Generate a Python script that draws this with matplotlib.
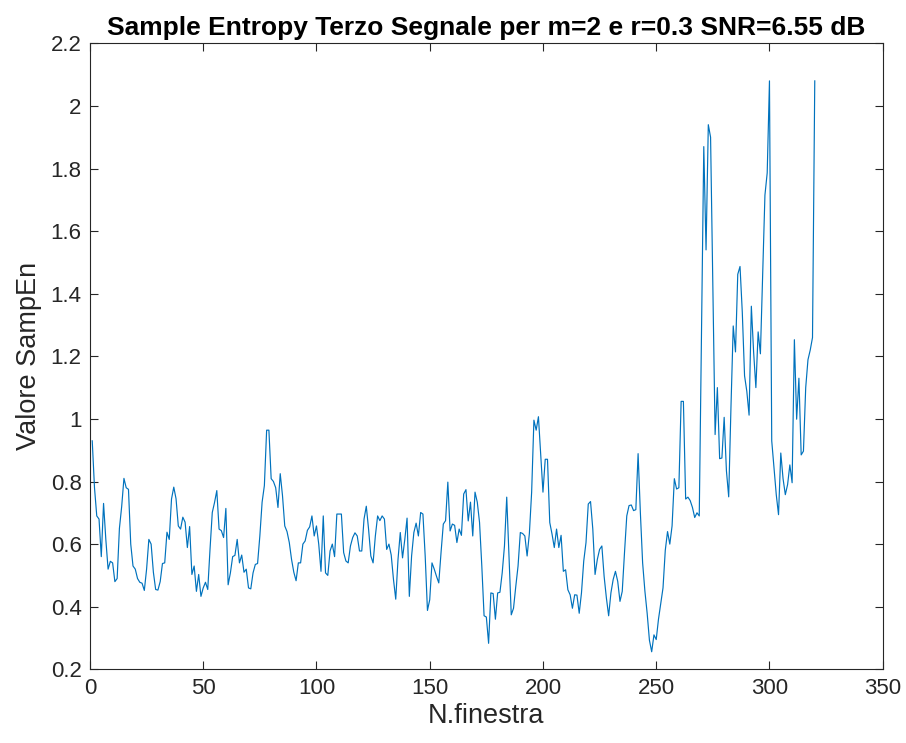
import numpy as np
import matplotlib.pyplot as plt

plt.rcParams['font.family'] = ['Liberation Sans', 'DejaVu Sans']

# Sample entropy per window (1-based window index)
sampen = [
    0.93, 0.78, 0.69, 0.68, 0.56, 0.73, 0.615, 0.52, 0.545, 0.54,
    0.48, 0.49, 0.65, 0.72, 0.81, 0.78, 0.775, 0.60, 0.53, 0.52,
    0.49, 0.478, 0.475, 0.452, 0.52, 0.615, 0.60, 0.51, 0.455, 0.453,
    0.48, 0.538, 0.54, 0.638, 0.615, 0.744, 0.782, 0.745, 0.658, 0.648,
    0.686, 0.67, 0.589, 0.656, 0.503, 0.53, 0.449, 0.503, 0.433, 0.46,
    0.478, 0.455, 0.583, 0.701, 0.733, 0.771, 0.648, 0.643, 0.621, 0.714,
    0.47, 0.508, 0.56, 0.564, 0.615, 0.54, 0.565, 0.51, 0.52, 0.46,
    0.457, 0.508, 0.535, 0.538, 0.626, 0.734, 0.787, 0.964, 0.964, 0.809,
    0.80, 0.78, 0.717, 0.825, 0.755, 0.658, 0.64, 0.605, 0.551, 0.51,
    0.483, 0.54, 0.54, 0.60, 0.61, 0.644, 0.655, 0.69, 0.626, 0.658,
    0.60, 0.513, 0.69, 0.508, 0.50, 0.578, 0.60, 0.56, 0.696, 0.696,
    0.696, 0.573, 0.546, 0.54, 0.594, 0.621, 0.636, 0.626, 0.578, 0.578,
    0.68, 0.721, 0.648, 0.562, 0.54, 0.626, 0.69, 0.675, 0.69, 0.68,
    0.583, 0.60, 0.565, 0.487, 0.424, 0.551, 0.637, 0.556, 0.615, 0.683,
    0.433, 0.562, 0.637, 0.667, 0.626, 0.701, 0.696, 0.562, 0.388, 0.422,
    0.54, 0.52, 0.497, 0.476, 0.573, 0.664, 0.675, 0.798, 0.642, 0.664,
    0.66, 0.605, 0.648, 0.628, 0.76, 0.774, 0.674, 0.734, 0.626, 0.766,
    0.734, 0.669, 0.53, 0.371, 0.367, 0.283, 0.444, 0.442, 0.36, 0.444,
    0.446, 0.508, 0.594, 0.75, 0.562, 0.374, 0.395, 0.465, 0.53, 0.637,
    0.634, 0.626, 0.562, 0.634, 0.766, 0.996, 0.964, 1.007, 0.884, 0.766,
    0.871, 0.871, 0.669, 0.632, 0.589, 0.648, 0.589, 0.628, 0.513, 0.518,
    0.454, 0.438, 0.395, 0.438, 0.437, 0.379, 0.444, 0.546, 0.605, 0.728,
    0.736, 0.648, 0.503, 0.551, 0.583, 0.594, 0.497, 0.428, 0.371, 0.444,
    0.487, 0.513, 0.481, 0.417, 0.449, 0.573, 0.69, 0.723, 0.725, 0.707,
    0.71, 0.889, 0.701, 0.54, 0.45, 0.379, 0.293, 0.256, 0.31, 0.295,
    0.36, 0.41, 0.46, 0.58, 0.64, 0.60, 0.658, 0.809, 0.776, 0.78,
    1.056, 1.056, 0.744, 0.75, 0.739, 0.717, 0.685, 0.70, 0.69, 1.28,
    1.87, 1.54, 1.94, 1.90, 1.42, 0.95, 1.10, 0.873, 0.875, 1.005,
    0.834, 0.751, 1.037, 1.297, 1.214, 1.462, 1.487, 1.341, 1.138, 1.088,
    1.012, 1.36, 1.214, 1.10, 1.278, 1.208, 1.456, 1.715, 1.786, 2.08,
    0.93, 0.846, 0.758, 0.694, 0.891, 0.809, 0.758, 0.79, 0.853, 0.796,
    1.253, 0.999, 1.13, 0.885, 0.897, 1.10, 1.189, 1.22, 1.26, 2.08,
]
finestra = np.arange(1, len(sampen) + 1)

xticks = [0, 50, 100, 150, 200, 250, 300, 350]
yticks = [0.2, 0.4, 0.6, 0.8, 1.0, 1.2, 1.4, 1.6, 1.8, 2.0, 2.2]
ytick_labels = ['0.2', '0.4', '0.6', '0.8', '1', '1.2', '1.4', '1.6', '1.8', '2', '2.2']

axcol = '#262626'

fig = plt.figure(figsize=(9.06, 7.43), dpi=100)
ax = fig.add_axes([0.0993, 0.0992, 0.875, 0.8425])

ax.plot(finestra, sampen, color='#0072BD', linewidth=0.85)

ax.set_xlim(0, 350)
ax.set_ylim(0.2, 2.2)
ax.set_xticks(xticks)
ax.set_yticks(yticks)
ax.set_yticklabels(ytick_labels)

ax.tick_params(direction='in', length=6, width=0.8, colors=axcol,
               labelsize=16, top=True, right=True, pad=6)
for s in ax.spines.values():
    s.set_color(axcol)
    s.set_linewidth(0.8)

ax.set_title('Sample Entropy Terzo Segnale per m=2 e r=0.3 SNR=6.55 dB',
             fontsize=19, fontweight='bold', color='black', pad=6)
ax.set_xlabel('N.finestra', fontsize=19.5, color=axcol, labelpad=3)
ax.set_ylabel('Valore SampEn', fontsize=19.5, color=axcol, labelpad=6)

fig.savefig('out.png', dpi=100)
